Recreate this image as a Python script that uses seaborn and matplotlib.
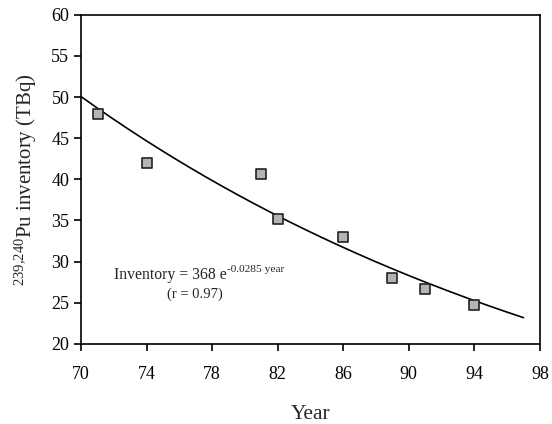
import numpy as np
import pandas as pd
import matplotlib
matplotlib.use("Agg")
import matplotlib.pyplot as plt
import seaborn as sns

# Data
years = [71, 74, 81, 82, 86, 89, 91, 94]
inventory = [47.9, 42.0, 40.7, 35.2, 33.0, 28.0, 26.7, 24.7]

# Fit shown on the chart: Inventory = 368 e^(-0.0285 year)
fit_a = 368
fit_b = -0.0285
fit_start, fit_end = 70, 97

x_ticks = [70, 74, 78, 82, 86, 90, 94, 98]
y_ticks = [20, 25, 30, 35, 40, 45, 50, 55, 60]

sns.set_style("ticks")
plt.rcParams['font.family'] = ['Liberation Serif', 'DejaVu Serif']
plt.rcParams['mathtext.fontset'] = 'custom'
plt.rcParams['mathtext.rm'] = 'Liberation Serif'
plt.rcParams['mathtext.it'] = 'Liberation Serif:italic'

fig = plt.figure(figsize=(5.52, 4.24), dpi=100)
ax = fig.add_axes([0.147, 0.189, 0.831, 0.776])

fit_x = np.linspace(fit_start, fit_end, 200)
fit_df = pd.DataFrame({"year": fit_x, "inv": fit_a * np.exp(fit_b * fit_x)})
sns.lineplot(data=fit_df, x="year", y="inv", ax=ax, color="black", linewidth=1.2)

pts = pd.DataFrame({"year": years, "inv": inventory})
sns.scatterplot(data=pts, x="year", y="inv", ax=ax, marker="s", s=42,
                color="#b4b4b4", edgecolor="#222222", linewidth=1.2, zorder=3)

ax.set_xlim(70, 98)
ax.set_ylim(20, 60)
ax.set_xticks(x_ticks)
ax.set_yticks(y_ticks)
ax.tick_params(axis="both", labelsize=13, direction="out", length=5, width=1.2,
               color="black", labelcolor="black")
ax.tick_params(axis="x", pad=11)
for s in ax.spines.values():
    s.set_linewidth(1.2)
    s.set_color("black")

ax.set_xlabel("Year", fontsize=15.5, labelpad=16)
ax.set_ylabel(r"$^{239{,}240}$Pu inventory (TBq)", fontsize=15, labelpad=9)

# Equation annotation: main part and superscript exponent
ax.annotate("Inventory = 368 e", xy=(78.89, 27.9), fontsize=11.3,
            ha="right", va="baseline")
ax.annotate("-0.0285 year", xy=(78.89, 27.9), xytext=(0.5, 5), textcoords="offset points",
            fontsize=8.2, ha="left", va="baseline")
ax.annotate("(r = 0.97)", xy=(76.94, 25.6), fontsize=10.5, ha="center", va="baseline")

fig.savefig("out.png", dpi=100)
